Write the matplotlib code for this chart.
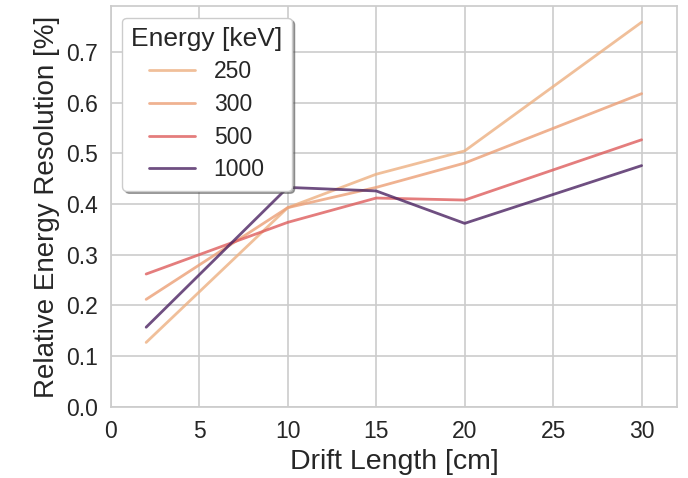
import matplotlib
matplotlib.use("Agg")
import matplotlib.pyplot as plt
import seaborn as sns
from matplotlib.colors import Normalize

# drift lengths [cm]
drift = [2, 10, 15, 20, 30]

# relative energy resolution [%] per energy
energies = [250, 300, 500, 1000]
res_250 = [0.127, 0.393, 0.459, 0.505, 0.759]
res_300 = [0.212, 0.393, 0.433, 0.481, 0.618]
res_500 = [0.262, 0.364, 0.412, 0.408, 0.527]
res_1000 = [0.157, 0.433, 0.426, 0.362, 0.476]
series = [res_250, res_300, res_500, res_1000]

sns.set_theme(style="whitegrid")
plt.rcParams['font.family'] = ['Liberation Sans', 'DejaVu Sans']

cmap = sns.color_palette("flare", as_cmap=True)
norm = Normalize(min(energies), max(energies))

fig = plt.figure(figsize=(6.88, 4.78), dpi=100)
ax = fig.add_axes([0.161, 0.149, 0.823, 0.838])

for e, ys in zip(energies, series):
    ax.plot(drift, ys, color=cmap(norm(e)), alpha=0.8, lw=2, label=str(e))

ax.set_xlim(0, 32)
ax.set_ylim(bottom=0)
ax.set_xlabel("Drift Length [cm]", fontsize=20.5)
ax.set_ylabel("Relative Energy Resolution [%]", fontsize=20)
ax.tick_params(labelsize=16.5)
ax.grid(lw=1.2)
for s in ax.spines.values():
    s.set_color("#cccccc")

leg = ax.legend(title="Energy [keV]", loc="upper left", fontsize=16.5,
                title_fontsize=19, shadow=True, framealpha=1,
                labelspacing=0.42)

fig.savefig("out.png")
